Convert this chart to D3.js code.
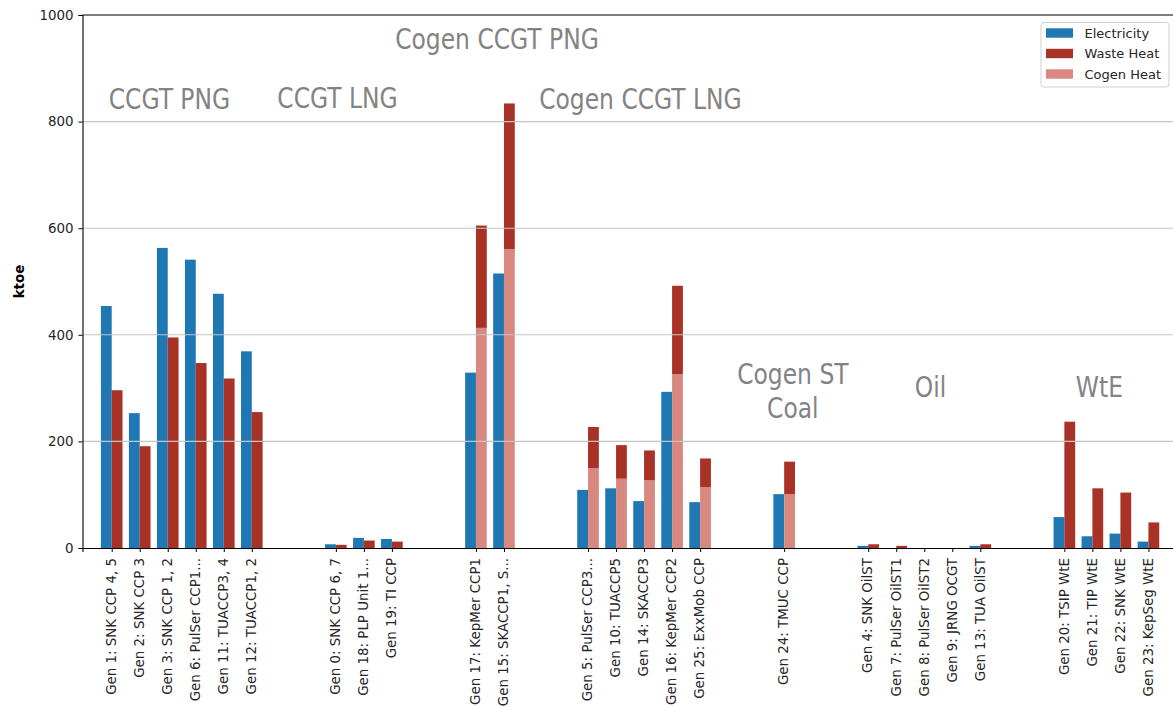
<!DOCTYPE html>
<html>
<head>
<meta charset="utf-8">
<script src="https://cdn.jsdelivr.net/npm/d3@7"></script>
<style>
  body { margin: 0; background: #ffffff; }
  svg { display: block; }
</style>
</head>
<body>
<svg id="chart" width="1173" height="707"></svg>
<script>
// ---------------- data ----------------
const groups = ["CCGT PNG", "CCGT LNG", "Cogen CCGT PNG", "Cogen CCGT LNG", "Cogen ST Coal", "Oil", "WtE"];

const categories = [
  "Gen 1: SNK CCP 4, 5", "Gen 2: SNK CCP 3", "Gen 3: SNK CCP 1, 2", "Gen 6: PulSer CCP1...",
  "Gen 11: TUACCP3, 4", "Gen 12: TUACCP1, 2",
  "Gen 0: SNK CCP 6, 7", "Gen 18: PLP Unit 1...", "Gen 19: TI CCP",
  "Gen 17: KepMer CCP1", "Gen 15: SKACCP1, S...",
  "Gen 5: PulSer CCP3...", "Gen 10: TUACCP5", "Gen 14: SKACCP3", "Gen 16: KepMer CCP2", "Gen 25: ExxMob CCP",
  "Gen 24: TMUC CCP",
  "Gen 4: SNK OilST", "Gen 7: PulSer OilST1", "Gen 8: PulSer OilST2", "Gen 9: JRNG OCGT", "Gen 13: TUA OilST",
  "Gen 20: TSIP WtE", "Gen 21: TIP WtE", "Gen 22: SNK WtE", "Gen 23: KepSeg WtE"
];

const categoryGroup = [0, 0, 0, 0, 0, 0, 1, 1, 1, 2, 2, 3, 3, 3, 3, 3, 4, 5, 5, 5, 5, 5, 6, 6, 6, 6];

const electricity = [454, 253, 563, 541, 477, 369, 7, 19, 17, 329, 515, 109, 112, 88, 293, 86, 101, 4, 0, 0, 0, 4, 58, 22, 27, 12];
const cogenHeat   = [0, 0, 0, 0, 0, 0, 0, 0, 0, 413, 561, 150, 130, 127, 326, 114, 101, 0, 0, 0, 0, 0, 0, 0, 0, 0];
const wasteHeat   = [296, 191, 395, 347, 318, 255, 6, 14, 12, 192, 273, 77, 63, 56, 166, 54, 61, 7, 4, 0, 0, 7, 237, 112, 104, 48];

const seriesNames = ["Electricity", "Waste Heat", "Cogen Heat"];
const yTickValues = [0, 200, 400, 600, 800, 1000];
const yLabel = "ktoe";

// group annotation anchors (slot position, value) – layout
const groupLabels = [
  { lines: ["CCGT PNG"], x: 2.06, y: 824 },
  { lines: ["CCGT LNG"], x: 8.06, y: 825 },
  { lines: ["Cogen CCGT PNG"], x: 13.75, y: 936 },
  { lines: ["Cogen CCGT LNG"], x: 18.87, y: 824 },
  { lines: ["Cogen ST", "Coal"], x: 24.31, y: 307 },
  { lines: ["Oil"], x: 29.22, y: 283 },
  { lines: ["WtE"], x: 35.25, y: 283 }
];

// ---------------- layout ----------------
const W = 1173, H = 707;
const plot = { left: 82.5, right: 1173, top: 15, bottom: 548 };
const colors = { "Electricity": "#1f77b4", "Waste Heat": "#a93226", "Cogen Heat": "#d98880" };
const tickFont = "'DejaVu Sans', sans-serif";
const fs = 13.4;

const svg = d3.select("#chart");

// slot position for each category (two empty slots between groups)
const rows = categories.map((c, i) => ({
  name: c,
  slot: i + 2 * categoryGroup[i],
  elec: electricity[i],
  cogen: cogenHeat[i],
  waste: wasteHeat[i]
}));

const x = d3.scaleLinear().domain([-1.042, 37.877]).range([plot.left, plot.right]);
const y = d3.scaleLinear().domain([0, 1000]).range([plot.bottom, plot.top]);
const bw = x(0.386) - x(0);

// bars: electricity
const g = svg.append("g");
g.selectAll("rect.elec").data(rows).join("rect")
  .attr("class", "elec")
  .attr("x", d => x(d.slot) - bw)
  .attr("width", bw)
  .attr("y", d => y(d.elec))
  .attr("height", d => y(0) - y(d.elec))
  .attr("fill", colors["Electricity"]);

// cogen heat (bottom of stack)
g.selectAll("rect.cogen").data(rows).join("rect")
  .attr("class", "cogen")
  .attr("x", d => x(d.slot))
  .attr("width", bw)
  .attr("y", d => y(d.cogen))
  .attr("height", d => y(0) - y(d.cogen))
  .attr("fill", colors["Cogen Heat"]);

// waste heat (top of stack)
g.selectAll("rect.waste").data(rows).join("rect")
  .attr("class", "waste")
  .attr("x", d => x(d.slot))
  .attr("width", bw)
  .attr("y", d => y(d.cogen + d.waste))
  .attr("height", d => y(d.cogen) - y(d.cogen + d.waste))
  .attr("fill", colors["Waste Heat"]);

// gridlines over bars
svg.append("g").selectAll("line").data(yTickValues.filter(v => v > 0 && v < 1000)).join("line")
  .attr("x1", plot.left).attr("x2", plot.right)
  .attr("y1", d => y(d)).attr("y2", d => y(d))
  .attr("stroke", "#c4c4c4").attr("stroke-width", 1.1);

// y axis
const yAxis = d3.axisLeft(y).tickValues(yTickValues).tickSize(4).tickPadding(5).tickFormat(d3.format("d"));
const yg = svg.append("g").attr("transform", `translate(${plot.left},0)`).call(yAxis);
yg.select(".domain").attr("stroke", "#000").attr("stroke-width", 1.1);
yg.selectAll(".tick line").attr("stroke", "#000").attr("stroke-width", 1);
yg.selectAll(".tick text").attr("font-family", tickFont).attr("font-size", fs).attr("fill", "#262626");

// x axis
const xAxis = d3.axisBottom(x).tickValues(rows.map(r => r.slot))
  .tickFormat((d, i) => rows[i].name).tickSize(4).tickPadding(5);
const xg = svg.append("g").attr("transform", `translate(0,${plot.bottom})`).call(xAxis);
xg.select(".domain").attr("stroke", "#000").attr("stroke-width", 1.1);
xg.selectAll(".tick line").attr("stroke", "#000").attr("stroke-width", 1);
xg.selectAll(".tick text")
  .attr("font-family", tickFont).attr("font-size", fs).attr("fill", "#262626")
  .attr("text-anchor", "end")
  .attr("transform", "rotate(-90)")
  .attr("x", -10).attr("y", 0).attr("dy", "0.28em");

// top spine
svg.append("line").attr("x1", plot.left).attr("x2", plot.right)
  .attr("y1", plot.top).attr("y2", plot.top).attr("stroke", "#000").attr("stroke-width", 1.1);

// y label
svg.append("text")
  .attr("transform", `translate(24,${(plot.top + plot.bottom) / 2}) rotate(-90)`)
  .attr("text-anchor", "middle")
  .attr("font-family", tickFont).attr("font-size", fs).attr("font-weight", "bold")
  .attr("fill", "#000")
  .text(yLabel);

// group labels
const gl = svg.append("g");
groupLabels.forEach(lbl => {
  lbl.lines.forEach((line, k) => {
    gl.append("text")
      .attr("transform", `translate(${x(lbl.x)},${y(lbl.y) + k * 34}) scale(0.93,1)`)
      .attr("text-anchor", "middle")
      .attr("font-family", "'DejaVu Sans Condensed', 'DejaVu Sans', sans-serif")
      .attr("font-size", 28)
      .attr("fill", "#838383")
      .text(line);
  });
});

// legend
const lg = svg.append("g").attr("transform", "translate(1041,22.5)");
lg.append("rect").attr("width", 128).attr("height", 64.5).attr("rx", 3)
  .attr("fill", "#fff").attr("fill-opacity", 0.8).attr("stroke", "#d0d0d0").attr("stroke-width", 1);
seriesNames.forEach((s, i) => {
  const cy = 10.5 + i * 20.5;
  lg.append("rect").attr("x", 5).attr("y", cy - 4.7).attr("width", 27).attr("height", 9.4).attr("fill", colors[s]);
  lg.append("text").attr("x", 43.5).attr("y", cy).attr("dy", "0.35em")
    .attr("font-family", tickFont).attr("font-size", 13).attr("fill", "#262626").text(s);
});
</script>
</body>
</html>
